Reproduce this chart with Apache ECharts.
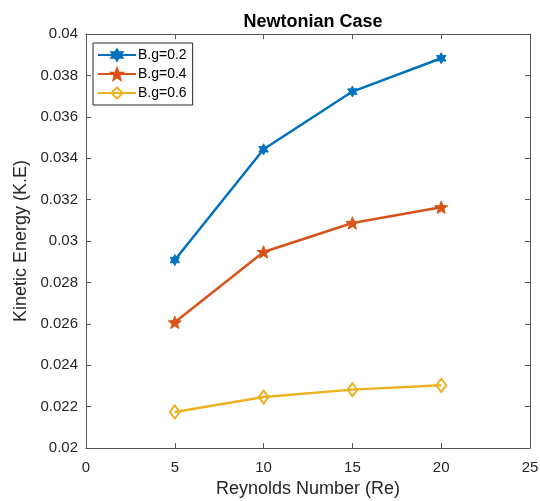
<!DOCTYPE html>
<html>
<head>
<meta charset="utf-8">
<script src="https://cdn.jsdelivr.net/npm/echarts@6/dist/echarts.min.js"></script>
<style>
  html, body { margin: 0; padding: 0; background: #fff; }
  #chart { width: 540px; height: 501px; }
</style>
</head>
<body>
<div id="chart"></div>
<script>
const reynolds = [5, 10, 15, 20];
const bg02 = [0.02908, 0.03443, 0.03722, 0.03883];
const bg04 = [0.02607, 0.02947, 0.03087, 0.03163];
const bg06 = [0.02174, 0.02246, 0.02282, 0.02303];
const seriesNames = ["B.g=0.2", "B.g=0.4", "B.g=0.6"];

const FONT = "Liberation Sans, Arial, sans-serif";
const AXIS = "#555555";
const TEXT = "#262626";

// star shaped marker, n points
const starPath = (n, inner) => {
  let d = "";
  for (let k = 0; k < 2 * n; k++) {
    const r = k % 2 === 0 ? 50 : 50 * inner;
    const a = -Math.PI / 2 + (k * Math.PI) / n;
    const x = (50 + r * Math.cos(a)).toFixed(2);
    const y = (50 + r * Math.sin(a)).toFixed(2);
    d += (k === 0 ? "M" : "L") + x + " " + y + " ";
  }
  return "path://" + d + "Z";
};

const pairs = (ys) => reynolds.map((x, i) => [x, ys[i]]);

const baseX = {
  type: "value",
  min: 0,
  max: 25,
  interval: 5,
  axisLine: { show: true, onZero: false, lineStyle: { color: AXIS, width: 1 } },
  axisTick: { show: true, inside: true, length: 5, lineStyle: { color: AXIS } },
  splitLine: { show: false },
};
const baseY = {
  type: "value",
  min: 0.02,
  max: 0.04,
  interval: 0.002,
  axisLine: { show: true, onZero: false, lineStyle: { color: AXIS, width: 1 } },
  axisTick: { show: true, inside: true, length: 5, lineStyle: { color: AXIS } },
  splitLine: { show: false },
};

const getOption = () => {
  return {
    animation: false,
    backgroundColor: "#fff",
    title: {
      text: "Newtonian Case",
      left: 308,
      top: 8,
      textAlign: "center",
      textStyle: { fontFamily: FONT, fontSize: 18, fontWeight: "bold", color: "#000" },
    },
    legend: {
      orient: "vertical",
      left: 93,
      top: 43,
      padding: [5, 6, 5, 4],
      itemGap: 5,
      itemWidth: 38,
      itemHeight: 14,
      backgroundColor: "#fff",
      borderColor: TEXT,
      borderWidth: 1,
      borderRadius: 0,
      textStyle: { fontFamily: FONT, fontSize: 14, color: "#000", padding: [0, 0, 0, -3] },
      data: seriesNames,
    },
    grid: {
      left: 86,
      right: 10,
      top: 34,
      bottom: 53,
      containLabel: false,
      outerBoundsMode: "none",
    },
    xAxis: [
      Object.assign({}, baseX, {
        position: "bottom",
        name: "Reynolds Number (Re)",
        nameLocation: "middle",
        nameGap: 26,
        nameTextStyle: { fontFamily: FONT, fontSize: 18, color: TEXT },
        axisLabel: { fontFamily: FONT, fontSize: 15, color: TEXT, margin: 12 },
      }),
      Object.assign({}, baseX, { position: "top", axisLabel: { show: false } }),
    ],
    yAxis: [
      Object.assign({}, baseY, {
        position: "left",
        name: "Kinetic Energy (K.E)",
        nameLocation: "middle",
        nameGap: 48,
        nameTextStyle: { fontFamily: FONT, fontSize: 18, color: TEXT },
        axisLabel: {
          fontFamily: FONT,
          fontSize: 15,
          color: TEXT,
          margin: 8,
          formatter: (v) => String(+v.toFixed(3)),
        },
      }),
      Object.assign({}, baseY, { position: "right", axisLabel: { show: false } }),
    ],
    series: [
      {
        name: seriesNames[0],
        type: "line",
        data: pairs(bg02),
        symbol: starPath(6, 0.55),
        symbolSize: 11,
        symbolKeepAspect: true,
        lineStyle: { color: "#0072BD", width: 2.5 },
        itemStyle: { color: "#0072BD", borderColor: "#0072BD", borderWidth: 1 },
      },
      {
        name: seriesNames[1],
        type: "line",
        data: pairs(bg04),
        symbol: starPath(5, 0.42),
        symbolSize: 13,
        symbolKeepAspect: true,
        lineStyle: { color: "#D95319", width: 2.5 },
        itemStyle: { color: "#D95319", borderColor: "#D95319", borderWidth: 1 },
      },
      {
        name: seriesNames[2],
        type: "line",
        data: pairs(bg06),
        symbol: "diamond",
        symbolSize: [10, 13],
        lineStyle: { color: "#EDB120", width: 2.5 },
        itemStyle: { color: "rgba(255,255,255,0)", borderColor: "#EDB120", borderWidth: 2 },
      },
    ],
  };
};

const chart = echarts.init(document.getElementById("chart"));
chart.setOption(getOption());
</script>
</body>
</html>
